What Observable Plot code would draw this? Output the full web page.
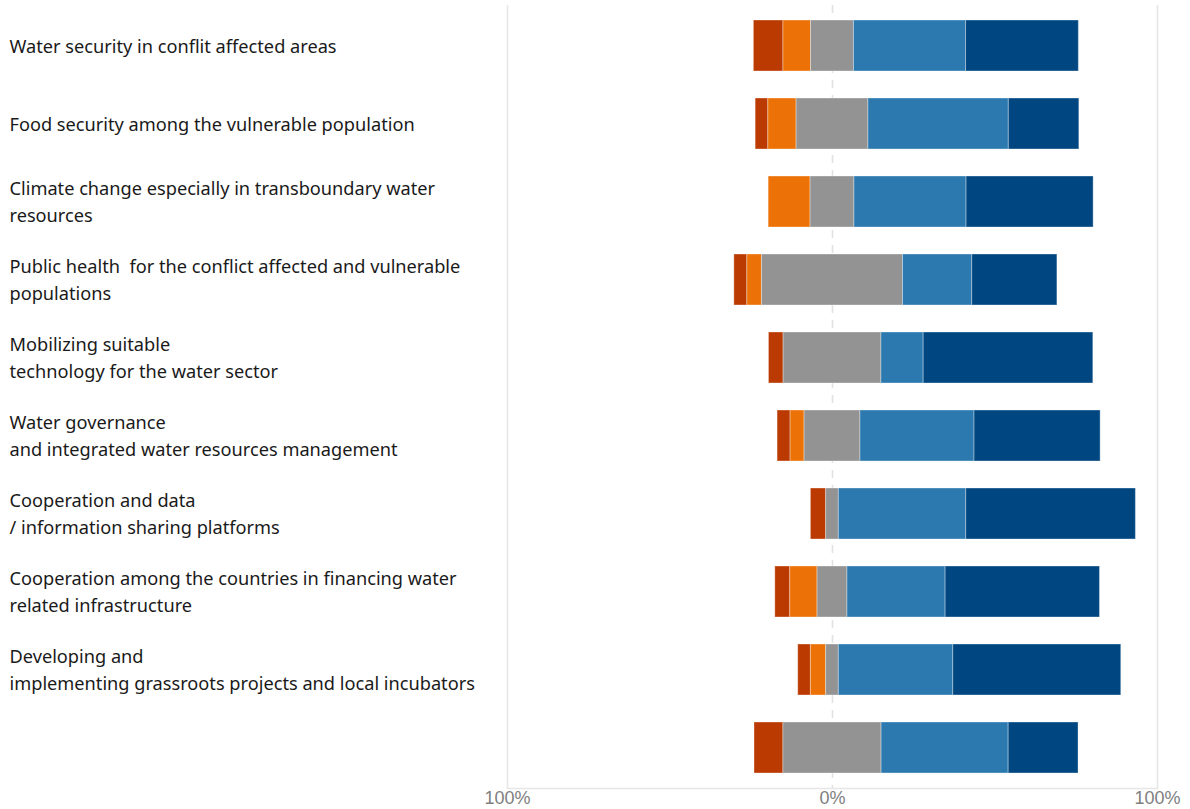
<!DOCTYPE html>
<html>
<head>
<meta charset="utf-8">
<script src="https://cdn.jsdelivr.net/npm/d3@7"></script>
<script src="https://cdn.jsdelivr.net/npm/@observablehq/plot@0.6"></script>
<style>
  html, body { margin: 0; padding: 0; background: #fff; }
  #chart { width: 1190px; height: 809px; }
</style>
</head>
<body>
<div id="chart"></div>
<script>
const categories = [
  "Water security in conflit affected areas",
  "Food security among the vulnerable population",
  "Climate change especially in transboundary water\nresources",
  "Public health  for the conflict affected and vulnerable\npopulations",
  "Mobilizing suitable\ntechnology for the water sector",
  "Water governance\nand integrated water resources management",
  "Cooperation and data\n/ information sharing platforms",
  "Cooperation among the countries in financing water\nrelated infrastructure",
  "Developing and\nimplementing grassroots projects and local incubators",
  ""
];
const responses = ["Strongly disagree", "Disagree", "Neutral", "Agree", "Strongly agree"];
const stronglyDisagree = [9.1, 3.9, 0, 4.0, 4.5, 4.0, 4.7, 4.6, 3.9, 8.9];
const disagree         = [8.5, 8.7, 12.9, 4.5, 0, 4.3, 0, 8.4, 4.7, 0];
const neutral          = [13.2, 22.1, 13.5, 43.4, 30.1, 17.2, 3.9, 9.2, 3.9, 30.2];
const agree            = [34.5, 43.2, 34.5, 21.3, 13.0, 35.1, 39.2, 30.2, 35.2, 39.1];
const stronglyAgree    = [34.7, 21.7, 39.1, 26.2, 52.2, 38.8, 52.2, 47.5, 51.7, 21.5];
const colors = ["#ba3a02", "#ec7208", "#939393", "#2c79b0", "#004781"];
const xTicks = [-100, 0, 100];

const ids = categories.map((c, i) => "c" + i);
const series = [stronglyDisagree, disagree, neutral, agree, stronglyAgree];
const rows = [];
ids.forEach((id, i) => {
  let start = -(stronglyDisagree[i] + disagree[i] + neutral[i] / 2);
  series.forEach((s, k) => {
    const v = s[i];
    if (v > 0) rows.push({id, response: responses[k], x1: start, x2: start + v});
    start += v;
  });
});
const labels = ids.map((id, i) => ({id, label: categories[i]}));

const chart = Plot.plot({
  width: 1190,
  height: 809,
  marginLeft: 507,
  marginRight: 33,
  marginTop: 5,
  marginBottom: 21,
  style: {fontFamily: "'Noto Sans', sans-serif", background: "#fff"},
  x: {domain: [-100, 100]},
  y: {domain: ids, paddingInner: 0.34, paddingOuter: 0.17, axis: null},
  color: {domain: responses, range: colors},
  marks: [
    Plot.ruleX([-100, 100], {stroke: "#e6e6e6", strokeWidth: 1.6}),
    Plot.ruleX([0], {stroke: "#e2e2e2", strokeWidth: 1.6, strokeDasharray: "8,7"}),
    Plot.frame({anchor: "bottom", stroke: "#e6e6e6", strokeWidth: 1.6}),
    Plot.barX(rows, {y: "id", x1: "x1", x2: "x2", fill: "response", stroke: "#ffffff", strokeOpacity: 0.35, strokeWidth: 1}),
    Plot.text(labels, {y: "id", text: "label", frameAnchor: "left", textAnchor: "start", dx: -498, dy: -2, fontSize: 18.2, lineHeight: 1.5, fill: "#1a1a1a"}),
    Plot.axisX(xTicks, {tickFormat: d => Math.abs(d) + "%", tickSize: 0, tickPadding: 3, fontSize: 18, fill: "#808080", fontFamily: "'Liberation Sans', Arial, sans-serif"})
  ]
});
document.getElementById("chart").appendChild(chart);
</script>
</body>
</html>
